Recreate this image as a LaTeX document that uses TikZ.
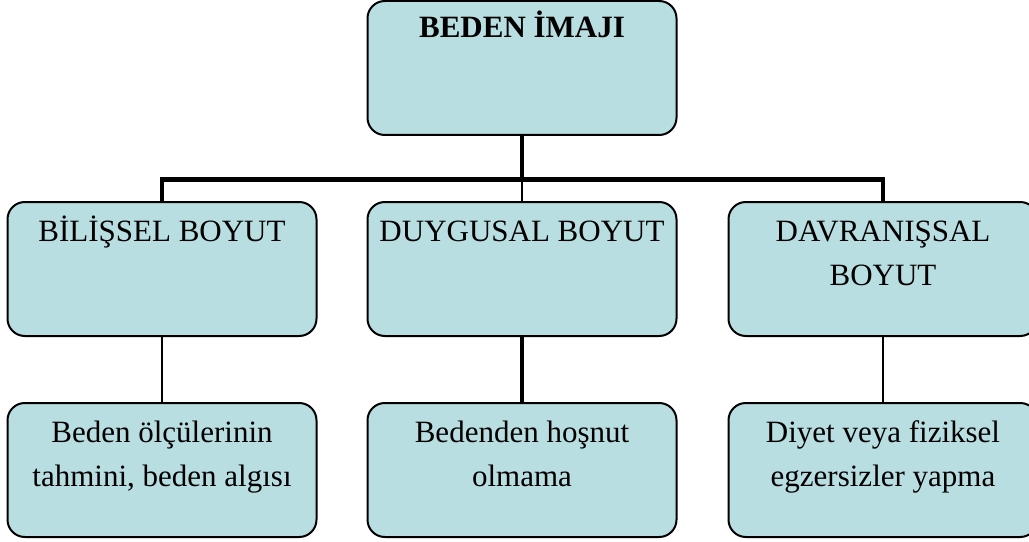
\documentclass[tikz,border=0pt]{standalone}
\usepackage{fontspec}
\setmainfont{Liberation Serif}
\usetikzlibrary{positioning}
\definecolor{kutumavi}{RGB}{184,222,225}

\begin{document}
\begin{tikzpicture}[
    x=0.75pt, y=-0.75pt,
    line width = 1.5pt,
    kutu/.style={draw, fill=kutumavi, rounded corners=13pt,
        minimum width=231.75pt, minimum height=100.5pt, inner sep=0pt},
    yazi/.style={inner sep=0pt, align=center,
        font=\fontsize{23.25}{33}\selectfont},
    kalin/.style={line width=3.6pt},
    ince/.style={line width=0.8pt}
    ]

    % Determines the boundries
    \useasboundingbox (0,0) rectangle (1029,542);

    \def\ust{4pt}
    \def\orta{6.2pt}
    \def\alt{6.5pt}

    % Boxes
    \node (imaj) [kutu] at (522,68) {};
    \node (imajyazi) [yazi, below=\ust of imaj.north] {\strut\textbf{BEDEN İMAJI}};

    \foreach \n/\x/\y/\g/\t in
        {bilissel/162/269/\orta/{BİLİŞSEL BOYUT},
         duygusal/522/269/\orta/{DUYGUSAL BOYUT},
         davranis/883/269/\orta/{DAVRANIŞSAL\\BOYUT},
         olcu/162/470/\alt/{Beden ölçülerinin\\tahmini, beden algısı},
         hosnut/522/470/\alt/{Bedenden hoşnut\\olmama},
         diyet/883/470/\alt/{Diyet veya fiziksel\\egzersizler yapma}}{
        \node (\n) [kutu] at (\x,\y) {};
        \node (\n yazi) [yazi, below=\g of \n.north] {\strut\t};
    }

    % Connectors
    \coordinate (bar) at (522,179.5);
    \draw[kalin] (imaj.south) -- (bar);
    \draw[kalin] (bilissel.north) |- (bar) -| (davranis.north);
    \draw[ince] (bar) -- (duygusal.north);

    \draw[ince] (bilissel) -- (olcu);
    \draw[kalin] (duygusal) -- (hosnut);
    \draw[ince] (davranis) -- (diyet);

\end{tikzpicture}
\end{document}
